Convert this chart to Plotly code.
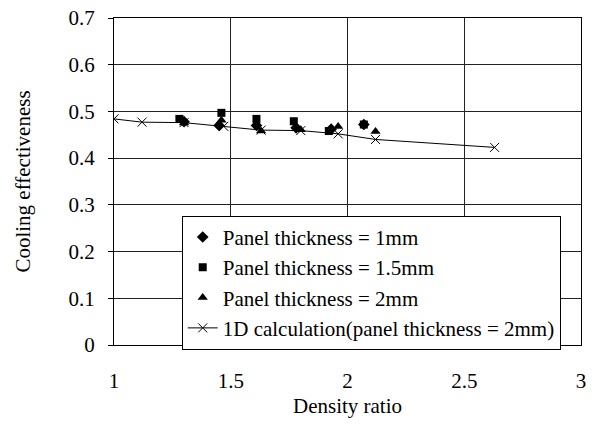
import plotly.graph_objects as go

# Data
x_1mm = [1.30, 1.45, 1.61, 1.78, 1.93, 2.07]
y_1mm = [0.478, 0.470, 0.470, 0.465, 0.462, 0.472]

x_15mm = [1.28, 1.46, 1.61, 1.77, 1.92, 2.07]
y_15mm = [0.484, 0.497, 0.484, 0.479, 0.458, 0.472]

x_2mm = [1.30, 1.46, 1.63, 1.80, 1.96, 2.12]
y_2mm = [0.475, 0.481, 0.458, 0.461, 0.468, 0.457]

x_1d = [1.0, 1.12, 1.30, 1.47, 1.63, 1.80, 1.96, 2.12, 2.63]
y_1d = [0.484, 0.477, 0.476, 0.468, 0.460, 0.459, 0.452, 0.440, 0.423]

x_ticks = [1, 1.5, 2, 2.5, 3]
y_ticks = [0, 0.1, 0.2, 0.3, 0.4, 0.5, 0.6, 0.7]

FONT = "Liberation Serif"
FS = 21
LFS = 21

fig = go.Figure()
fig.add_trace(go.Scatter(x=x_1mm, y=y_1mm, mode="markers", name="Panel thickness = 1mm",
                         marker=dict(symbol="diamond", size=9, color="black")))
fig.add_trace(go.Scatter(x=x_15mm, y=y_15mm, mode="markers", name="Panel thickness = 1.5mm",
                         marker=dict(symbol="square", size=8, color="black")))
fig.add_trace(go.Scatter(x=x_2mm, y=y_2mm, mode="markers", name="Panel thickness = 2mm",
                         marker=dict(symbol="triangle-up", size=9, color="black")))
fig.add_trace(go.Scatter(x=x_1d, y=y_1d, mode="lines+markers",
                         name="1D calculation(panel thickness = 2mm)",
                         line=dict(color="black", width=1),
                         marker=dict(symbol="x-thin", size=9, color="black",
                                     line=dict(color="black", width=1))))

axis_common = dict(showline=True, linecolor="black", linewidth=1, mirror=True,
                   showgrid=True, gridcolor="#222222", gridwidth=1, zeroline=False,
                   automargin=False,
                   tickfont=dict(family=FONT, size=FS, color="black"),
                   title_font=dict(family=FONT, size=FS, color="black"))

fig.update_xaxes(range=[1, 3], tickvals=x_ticks, ticktext=[str(v) for v in x_ticks],
                 ticks="", ticklen=0, ticklabelstandoff=17,
                 title_text="Density ratio", title_standoff=6, **axis_common)
fig.update_yaxes(range=[0, 0.7], tickvals=y_ticks,
                 ticktext=[("0" if v == 0 else f"{v:.1f}") for v in y_ticks],
                 ticks="outside", ticklen=5, tickcolor="black", ticklabelstandoff=9,
                 title_text="Cooling effectiveness", title_standoff=32, **axis_common)

fig.update_layout(
    width=594, height=424,
    margin=dict(l=114, r=13, t=18, b=79),
    plot_bgcolor="white", paper_bgcolor="white",
    font=dict(family=FONT, size=FS, color="black"),
    legend=dict(x=0.145, y=0.395, xanchor="left", yanchor="top",
                bgcolor="white", bordercolor="black", borderwidth=1,
                font=dict(family=FONT, size=LFS, color="black")),
    showlegend=True,
)

fig.write_html("out.html")
